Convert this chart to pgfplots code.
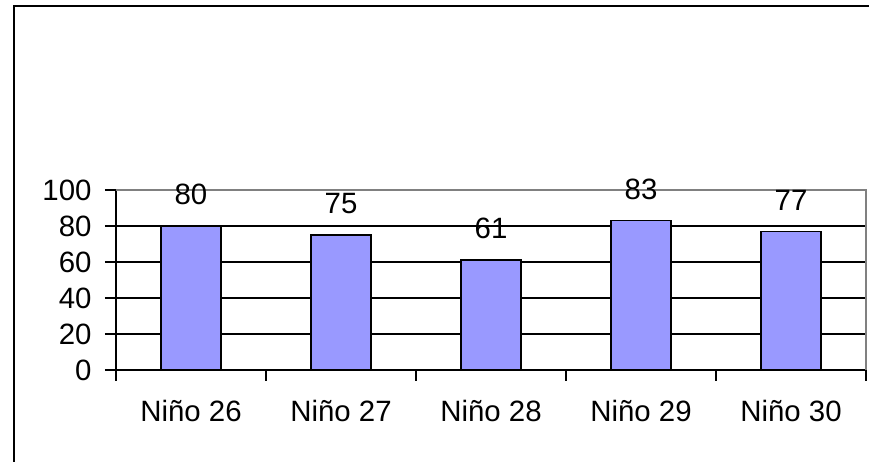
\documentclass[border=0pt]{standalone}
\usepackage{pgfplots}
\pgfplotsset{compat=1.18}
\usepackage{fontspec}
\setmainfont{Liberation Sans}
\definecolor{barfill}{HTML}{9999FF}
\begin{document}
\begin{tikzpicture}[x=1bp,y=1bp]
\useasboundingbox (0,0) rectangle (869,462);
\draw[line width=2.2bp] (14,-5) -- (14,456) -- (880,456);
\begin{axis}[
  at={(116bp,92bp)}, anchor=south west,
  scale only axis, width=750bp, height=180bp,
  xmin=-0.5, xmax=4.5, ymin=0, ymax=100,
  axis x line*=bottom, axis y line*=left,
  axis line style={black, line width=1.3bp},
  xtick={0,1,2,3,4},
  xticklabels={Niño 26,Niño 27,Niño 28,Niño 29,Niño 30},
  minor xtick={-0.5,0.5,1.5,2.5,3.5,4.5},
  ytick={0,20,40,60,80,100},
  tick align=outside,
  major tick length=11bp, minor tick length=11bp,
  major x tick style={draw=none},
  tick style={black, line width=1.3bp},
  ymajorgrids, grid style={black, line width=1.3bp},
  ticklabel style={font=\fontsize{29.5}{34}\selectfont},
  /pgf/number format/assume math mode=true,
  xticklabel style={yshift=-16bp},
  yticklabel style={xshift=-10bp},
  clip=false,
]
\draw[gray, line width=1.3bp] (axis cs:-0.5,100) -- (axis cs:4.5,100) -- (axis cs:4.5,0);
\addplot[ybar, bar width=60bp, fill=barfill, draw=black, line width=1.5bp,
  nodes near coords,
  every node near coord/.append style={font=\fontsize{29.5}{34}\selectfont, yshift=17bp, black}]
  coordinates {(0,80) (1,75) (2,61) (3,83) (4,77)};
\end{axis}
\end{tikzpicture}
\end{document}
